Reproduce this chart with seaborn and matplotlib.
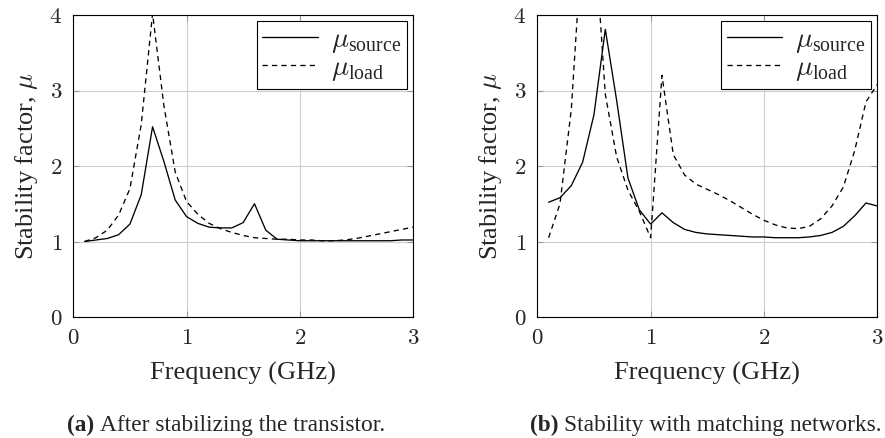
import matplotlib
matplotlib.use("Agg")
import matplotlib.pyplot as plt
import seaborn as sns
import pandas as pd

# ---------------- data ----------------
freq_ghz = [0.1, 0.2, 0.3, 0.4, 0.5, 0.6, 0.7, 0.8, 0.9, 1.0,
            1.1, 1.2, 1.3, 1.4, 1.5, 1.6, 1.7, 1.8, 1.9, 2.0,
            2.1, 2.2, 2.3, 2.4, 2.5, 2.6, 2.7, 2.8, 2.9, 3.0]

# (a) After stabilizing the transistor
mu_source_a = [1.00, 1.02, 1.04, 1.09, 1.23, 1.62, 2.52, 2.06, 1.55, 1.33,
               1.24, 1.19, 1.18, 1.18, 1.25, 1.50, 1.15, 1.03, 1.02, 1.01,
               1.01, 1.01, 1.01, 1.01, 1.01, 1.01, 1.01, 1.01, 1.02, 1.02]
mu_load_a = [1.00, 1.05, 1.15, 1.35, 1.70, 2.55, 4.02, 2.80, 1.92, 1.53,
             1.36, 1.24, 1.17, 1.12, 1.08, 1.05, 1.04, 1.03, 1.03, 1.02,
             1.02, 1.01, 1.01, 1.02, 1.04, 1.07, 1.10, 1.13, 1.16, 1.19]

# (b) Stability with matching networks
mu_source_b = [1.52, 1.58, 1.74, 2.05, 2.68, 3.81, 2.87, 1.84, 1.42, 1.23,
               1.38, 1.25, 1.16, 1.12, 1.10, 1.09, 1.08, 1.07, 1.06, 1.06,
               1.05, 1.05, 1.05, 1.06, 1.08, 1.12, 1.20, 1.34, 1.51, 1.47]
mu_load_b = [1.05, 1.50, 2.75, 5.10, 5.20, 2.95, 2.12, 1.68, 1.40, 1.05,
             3.20, 2.15, 1.88, 1.76, 1.69, 1.62, 1.54, 1.45, 1.36, 1.28,
             1.22, 1.18, 1.17, 1.20, 1.30, 1.47, 1.72, 2.20, 2.85, 3.08]

x_ticks = [0, 1, 2, 3]
y_ticks = [0, 1, 2, 3, 4]
x_label = "Frequency (GHz)"
y_label = r"Stability factor, $\mu$"
legend_labels = [r"$\mu_{\mathregular{source}}$", r"$\mu_{\mathregular{load}}$"]
captions = [("(a)", "After stabilizing the transistor."),
            ("(b)", "Stability with matching networks.")]

# ---------------- style ----------------
sns.set_theme(style="ticks")
plt.rcParams.update({
    "font.family": ["Liberation Serif", "DejaVu Serif"],
    "mathtext.fontset": "cm",
    "lines.scale_dashes": False,
    "axes.linewidth": 0.8,
    "axes.edgecolor": "black",
})

W, H = 885, 438
fig = plt.figure(figsize=(W / 100, H / 100), dpi=100)

ax_rects = [
    (73.3 / W, 1 - 317 / H, 339.7 / W, 302 / H),
    (537.3 / W, 1 - 317 / H, 340.0 / W, 302 / H),
]
panels = [(mu_source_a, mu_load_a), (mu_source_b, mu_load_b)]

for rect, (src, ld) in zip(ax_rects, panels):
    ax = fig.add_axes(rect)
    df = pd.DataFrame({"f": freq_ghz, "src": src, "ld": ld})
    sns.lineplot(data=df, x="f", y="src", ax=ax, color="black", lw=0.95,
                 label=legend_labels[0])
    sns.lineplot(data=df, x="f", y="ld", ax=ax, color="black", lw=0.95,
                 dashes=False, linestyle=(0, (3.8, 3.0)), label=legend_labels[1])
    ax.set_xlim(0, 3)
    ax.set_ylim(0, 4)
    ax.set_xticks(x_ticks)
    ax.set_xticklabels([f"${t}$" for t in x_ticks])
    ax.set_yticks(y_ticks)
    ax.set_yticklabels([f"${t}$" for t in y_ticks])
    ax.grid(True, color="#cdcdcd", lw=0.8)
    ax.set_axisbelow(True)
    for s in ax.spines.values():
        s.set_color("black")
        s.set_linewidth(0.8)
    ax.tick_params(direction="in", length=4, width=0.8, color="#9a9a9a",
                   top=True, right=True, labelsize=16.5, pad=8)
    ax.set_xlabel(x_label, fontsize=19, labelpad=9)
    ax.set_ylabel(y_label, fontsize=19, labelpad=7)
    leg = ax.legend(loc="upper right", fontsize=20.5, frameon=True, fancybox=False,
                    edgecolor="black", framealpha=1, handlelength=1.95,
                    handletextpad=0.45, borderaxespad=0.22, borderpad=0.2,
                    labelspacing=0.0)
    leg.get_frame().set_linewidth(0.8)

# captions: bold tag followed by normal text
renderer = fig.canvas.get_renderer()
cap_x = [67 / W, 530 / W]
cap_y = 6.7 / H
for (tag, text), x0 in zip(captions, cap_x):
    t = fig.text(x0, cap_y, tag, fontsize=16.8, fontweight="bold", va="baseline", ha="left")
    bb = t.get_window_extent(renderer=renderer)
    fig.text((bb.x1 + 6) / W, cap_y, text, fontsize=16.8, va="baseline", ha="left")

fig.savefig("out.png", dpi=100)
